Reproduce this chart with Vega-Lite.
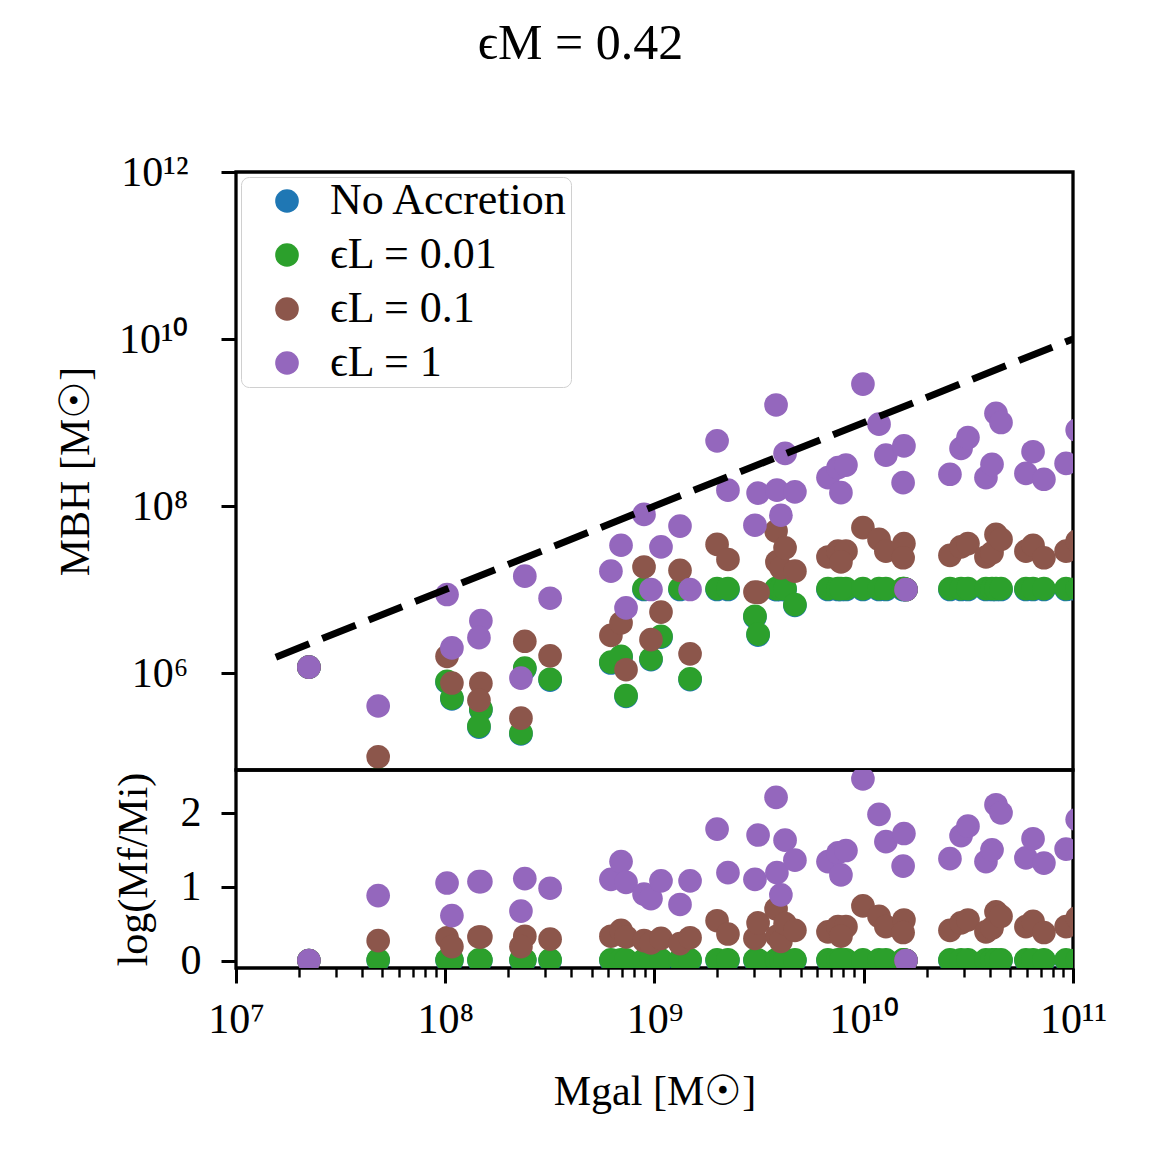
{
"$schema": "https://vega.github.io/schema/vega-lite/v6.json",
"background": "white",
"padding": {"left": 52, "top": 19, "right": 10, "bottom": 10},
"bounds": "flush",
"title": {"text": "ϵM = 0.42", "fontSize": 50, "font": "Liberation Serif", "fontWeight": "normal", "color": "black", "anchor": "middle", "frame": "bounds", "offset": 80},
"config": {
  "font": "Liberation Serif",
  "view": {"stroke": "black", "strokeWidth": 3.3},
  "axis": {"grid": false, "domain": false, "tickColor": "black", "tickWidth": 3, "tickSize": 15, "labelFont": "Liberation Serif", "labelFontSize": 42, "labelColor": "black", "titleFont": "Liberation Serif", "titleFontSize": 42, "titleFontWeight": "normal", "titleColor": "black", "labelPadding": 12, "labelFlush": false, "labelOverlap": false}
},
"datasets": {
"pts": [
{"g":2.23e7,"m":1.175e6,"r":0,"s":"A"},
{"g":4.78e7,"m":5.31e4,"r":0,"s":"A"},
{"g":1.02e8,"m":7.76e5,"r":0,"s":"A"},
{"g":1.076e8,"m":4.90e5,"r":0,"s":"A"},
{"g":1.48e8,"m":3.61e5,"r":0,"s":"A"},
{"g":1.449e8,"m":2.25e5,"r":0,"s":"A"},
{"g":2.40e8,"m":1.122e6,"r":0,"s":"A"},
{"g":2.30e8,"m":1.862e5,"r":0,"s":"A"},
{"g":3.17e8,"m":8.24e5,"r":0,"s":"A"},
{"g":6.19e8,"m":1.318e6,"r":0,"s":"A"},
{"g":6.92e8,"m":1.549e6,"r":0,"s":"A"},
{"g":7.31e8,"m":5.25e5,"r":0,"s":"A"},
{"g":8.91e8,"m":1e7,"r":0,"s":"A"},
{"g":9.62e8,"m":1.445e6,"r":0,"s":"A"},
{"g":1.074e9,"m":2.69e6,"r":0,"s":"A"},
{"g":1.324e9,"m":1e7,"r":0,"s":"A"},
{"g":1.479e9,"m":8.32e5,"r":0,"s":"A"},
{"g":1.991e9,"m":1e7,"r":0,"s":"A"},
{"g":2.244e9,"m":1e7,"r":0,"s":"A"},
{"g":3.02e9,"m":4.68e6,"r":0,"s":"A"},
{"g":3.126e9,"m":2.85e6,"r":0,"s":"A"},
{"g":3.81e9,"m":1e7,"r":0,"s":"A"},
{"g":3.846e9,"m":1e7,"r":0,"s":"A"},
{"g":4.018e9,"m":1e7,"r":0,"s":"A"},
{"g":4.207e9,"m":1e7,"r":0,"s":"A"},
{"g":4.688e9,"m":6.46e6,"r":0,"s":"A"},
{"g":6.745e9,"m":1e7,"r":0,"s":"A"},
{"g":7.534e9,"m":1e7,"r":0,"s":"A"},
{"g":8.222e9,"m":1e7,"r":0,"s":"A"},
{"g":7.78e9,"m":1e7,"r":0,"s":"A"},
{"g":9.91e9,"m":1e7,"r":0,"s":"A"},
{"g":1.183e10,"m":1e7,"r":0,"s":"A"},
{"g":1.276e10,"m":1e7,"r":0,"s":"A"},
{"g":1.556e10,"m":1e7,"r":0,"s":"A"},
{"g":1.542e10,"m":1e7,"r":0,"s":"A"},
{"g":1.592e10,"m":1e7,"r":0,"s":"A"},
{"g":2.582e10,"m":1e7,"r":0,"s":"A"},
{"g":2.917e10,"m":1e7,"r":0,"s":"A"},
{"g":3.148e10,"m":1e7,"r":0,"s":"A"},
{"g":3.837e10,"m":1e7,"r":0,"s":"A"},
{"g":4.102e10,"m":1e7,"r":0,"s":"A"},
{"g":4.285e10,"m":1e7,"r":0,"s":"A"},
{"g":4.529e10,"m":1e7,"r":0,"s":"A"},
{"g":5.957e10,"m":1e7,"r":0,"s":"A"},
{"g":6.442e10,"m":1e7,"r":0,"s":"A"},
{"g":7.261e10,"m":1e7,"r":0,"s":"A"},
{"g":9.268e10,"m":1e7,"r":0,"s":"A"},
{"g":1.047e11,"m":1e7,"r":0,"s":"A"},

{"g":2.23e7,"m":1.175e6,"r":0,"s":"G"},
{"g":4.78e7,"m":5.43e4,"r":0.01,"s":"G"},
{"g":1.02e8,"m":7.94e5,"r":0.01,"s":"G"},
{"g":1.076e8,"m":5.01e5,"r":0.01,"s":"G"},
{"g":1.48e8,"m":3.69e5,"r":0.01,"s":"G"},
{"g":1.449e8,"m":2.31e5,"r":0.01,"s":"G"},
{"g":2.40e8,"m":1.148e6,"r":0.01,"s":"G"},
{"g":2.30e8,"m":1.905e5,"r":0.01,"s":"G"},
{"g":3.17e8,"m":8.43e5,"r":0.01,"s":"G"},
{"g":6.19e8,"m":1.349e6,"r":0.01,"s":"G"},
{"g":6.92e8,"m":1.585e6,"r":0.01,"s":"G"},
{"g":7.31e8,"m":5.37e5,"r":0.01,"s":"G"},
{"g":8.91e8,"m":1.023e7,"r":0.01,"s":"G"},
{"g":9.62e8,"m":1.479e6,"r":0.01,"s":"G"},
{"g":1.074e9,"m":2.754e6,"r":0.01,"s":"G"},
{"g":1.324e9,"m":1.023e7,"r":0.01,"s":"G"},
{"g":1.479e9,"m":8.51e5,"r":0.01,"s":"G"},
{"g":1.991e9,"m":1.023e7,"r":0.01,"s":"G"},
{"g":2.244e9,"m":1.023e7,"r":0.01,"s":"G"},
{"g":3.02e9,"m":4.79e6,"r":0.01,"s":"G"},
{"g":3.126e9,"m":2.92e6,"r":0.01,"s":"G"},
{"g":3.81e9,"m":1.023e7,"r":0.01,"s":"G"},
{"g":3.846e9,"m":1.023e7,"r":0.01,"s":"G"},
{"g":4.018e9,"m":1.023e7,"r":0.01,"s":"G"},
{"g":4.207e9,"m":1.023e7,"r":0.01,"s":"G"},
{"g":4.688e9,"m":6.61e6,"r":0.01,"s":"G"},
{"g":6.745e9,"m":1.023e7,"r":0.01,"s":"G"},
{"g":7.534e9,"m":1.023e7,"r":0.01,"s":"G"},
{"g":8.222e9,"m":1.023e7,"r":0.01,"s":"G"},
{"g":7.78e9,"m":1.023e7,"r":0.01,"s":"G"},
{"g":9.91e9,"m":1.023e7,"r":0.01,"s":"G"},
{"g":1.183e10,"m":1.023e7,"r":0.01,"s":"G"},
{"g":1.276e10,"m":1.023e7,"r":0.01,"s":"G"},
{"g":1.556e10,"m":1.023e7,"r":0.01,"s":"G"},
{"g":1.542e10,"m":1.023e7,"r":0.01,"s":"G"},
{"g":1.592e10,"m":1e7,"r":0,"s":"G"},
{"g":2.582e10,"m":1.023e7,"r":0.01,"s":"G"},
{"g":2.917e10,"m":1.023e7,"r":0.01,"s":"G"},
{"g":3.148e10,"m":1.023e7,"r":0.01,"s":"G"},
{"g":3.837e10,"m":1.023e7,"r":0.01,"s":"G"},
{"g":4.102e10,"m":1.023e7,"r":0.01,"s":"G"},
{"g":4.285e10,"m":1.023e7,"r":0.01,"s":"G"},
{"g":4.529e10,"m":1.023e7,"r":0.01,"s":"G"},
{"g":5.957e10,"m":1.023e7,"r":0.01,"s":"G"},
{"g":6.442e10,"m":1.023e7,"r":0.01,"s":"G"},
{"g":7.261e10,"m":1.023e7,"r":0.01,"s":"G"},
{"g":9.268e10,"m":1.023e7,"r":0.01,"s":"G"},
{"g":1.047e11,"m":1.023e7,"r":0.01,"s":"G"},

{"g":2.23e7,"m":1.175e6,"r":0,"s":"B"},
{"g":4.78e7,"m":9.89e4,"r":0.27,"s":"B"},
{"g":1.02e8,"m":1.585e6,"r":0.31,"s":"B"},
{"g":1.076e8,"m":7.59e5,"r":0.19,"s":"B"},
{"g":1.48e8,"m":7.53e5,"r":0.32,"s":"B"},
{"g":1.449e8,"m":4.71e5,"r":0.32,"s":"B"},
{"g":2.40e8,"m":2.40e6,"r":0.33,"s":"B"},
{"g":2.30e8,"m":2.88e5,"r":0.19,"s":"B"},
{"g":3.17e8,"m":1.607e6,"r":0.29,"s":"B"},
{"g":6.19e8,"m":2.82e6,"r":0.33,"s":"B"},
{"g":6.92e8,"m":3.98e6,"r":0.41,"s":"B"},
{"g":7.31e8,"m":1.096e6,"r":0.32,"s":"B"},
{"g":8.91e8,"m":1.862e7,"r":0.27,"s":"B"},
{"g":9.62e8,"m":2.51e6,"r":0.24,"s":"B"},
{"g":1.074e9,"m":5.37e6,"r":0.30,"s":"B"},
{"g":1.324e9,"m":1.698e7,"r":0.23,"s":"B"},
{"g":1.479e9,"m":1.698e6,"r":0.31,"s":"B"},
{"g":1.991e9,"m":3.47e7,"r":0.54,"s":"B"},
{"g":2.244e9,"m":2.29e7,"r":0.36,"s":"B"},
{"g":3.02e9,"m":9.33e6,"r":0.30,"s":"B"},
{"g":3.126e9,"m":9.23e6,"r":0.51,"s":"B"},
{"g":3.81e9,"m":5.01e7,"r":0.70,"s":"B"},
{"g":3.846e9,"m":2.14e7,"r":0.33,"s":"B"},
{"g":4.018e9,"m":1.82e7,"r":0.26,"s":"B"},
{"g":4.207e9,"m":3.16e7,"r":0.50,"s":"B"},
{"g":4.688e9,"m":1.66e7,"r":0.41,"s":"B"},
{"g":6.745e9,"m":2.455e7,"r":0.39,"s":"B"},
{"g":7.534e9,"m":2.88e7,"r":0.46,"s":"B"},
{"g":8.222e9,"m":2.88e7,"r":0.46,"s":"B"},
{"g":7.78e9,"m":2.14e7,"r":0.33,"s":"B"},
{"g":9.91e9,"m":5.5e7,"r":0.74,"s":"B"},
{"g":1.183e10,"m":3.98e7,"r":0.60,"s":"B"},
{"g":1.276e10,"m":2.88e7,"r":0.46,"s":"B"},
{"g":1.556e10,"m":3.55e7,"r":0.55,"s":"B"},
{"g":1.542e10,"m":2.40e7,"r":0.38,"s":"B"},
{"g":1.592e10,"m":1e7,"r":0,"s":"B"},
{"g":2.582e10,"m":2.57e7,"r":0.41,"s":"B"},
{"g":2.917e10,"m":3.24e7,"r":0.51,"s":"B"},
{"g":3.148e10,"m":3.55e7,"r":0.55,"s":"B"},
{"g":3.837e10,"m":2.455e7,"r":0.39,"s":"B"},
{"g":4.102e10,"m":2.75e7,"r":0.44,"s":"B"},
{"g":4.285e10,"m":4.57e7,"r":0.66,"s":"B"},
{"g":4.529e10,"m":3.98e7,"r":0.60,"s":"B"},
{"g":5.957e10,"m":2.88e7,"r":0.46,"s":"B"},
{"g":6.442e10,"m":3.39e7,"r":0.53,"s":"B"},
{"g":7.261e10,"m":2.40e7,"r":0.38,"s":"B"},
{"g":9.268e10,"m":2.88e7,"r":0.46,"s":"B"},
{"g":1.047e11,"m":3.80e7,"r":0.58,"s":"B"},

{"g":2.23e7,"m":1.175e6,"r":0,"s":"P"},
{"g":4.78e7,"m":4.03e5,"r":0.88,"s":"P"},
{"g":1.02e8,"m":8.71e6,"r":1.05,"s":"P"},
{"g":1.076e8,"m":2.0e6,"r":0.61,"s":"P"},
{"g":1.48e8,"m":4.24e6,"r":1.07,"s":"P"},
{"g":1.449e8,"m":2.65e6,"r":1.07,"s":"P"},
{"g":2.40e8,"m":1.445e7,"r":1.11,"s":"P"},
{"g":2.30e8,"m":8.71e5,"r":0.67,"s":"P"},
{"g":3.17e8,"m":7.87e6,"r":0.98,"s":"P"},
{"g":6.19e8,"m":1.66e7,"r":1.10,"s":"P"},
{"g":6.92e8,"m":3.39e7,"r":1.34,"s":"P"},
{"g":7.31e8,"m":6.03e6,"r":1.06,"s":"P"},
{"g":8.91e8,"m":7.94e7,"r":0.90,"s":"P"},
{"g":9.62e8,"m":1.0e7,"r":0.84,"s":"P"},
{"g":1.074e9,"m":3.24e7,"r":1.08,"s":"P"},
{"g":1.324e9,"m":5.75e7,"r":0.76,"s":"P"},
{"g":1.479e9,"m":1.0e7,"r":1.08,"s":"P"},
{"g":1.991e9,"m":6.03e8,"r":1.78,"s":"P"},
{"g":2.244e9,"m":1.549e8,"r":1.19,"s":"P"},
{"g":3.02e9,"m":5.89e7,"r":1.10,"s":"P"},
{"g":3.126e9,"m":1.429e8,"r":1.70,"s":"P"},
{"g":3.81e9,"m":1.622e9,"r":2.21,"s":"P"},
{"g":3.846e9,"m":1.549e8,"r":1.19,"s":"P"},
{"g":4.018e9,"m":7.76e7,"r":0.89,"s":"P"},
{"g":4.207e9,"m":4.27e8,"r":1.63,"s":"P"},
{"g":4.688e9,"m":1.479e8,"r":1.36,"s":"P"},
{"g":6.745e9,"m":2.19e8,"r":1.34,"s":"P"},
{"g":7.534e9,"m":2.88e8,"r":1.46,"s":"P"},
{"g":8.222e9,"m":3.09e8,"r":1.49,"s":"P"},
{"g":7.78e9,"m":1.445e8,"r":1.16,"s":"P"},
{"g":9.91e9,"m":2.884e9,"r":2.46,"s":"P"},
{"g":1.183e10,"m":9.55e8,"r":1.98,"s":"P"},
{"g":1.276e10,"m":4.07e8,"r":1.61,"s":"P"},
{"g":1.556e10,"m":5.25e8,"r":1.72,"s":"P"},
{"g":1.542e10,"m":1.905e8,"r":1.28,"s":"P"},
{"g":1.592e10,"m":1e7,"r":0,"s":"P"},
{"g":2.582e10,"m":2.40e8,"r":1.38,"s":"P"},
{"g":2.917e10,"m":4.90e8,"r":1.69,"s":"P"},
{"g":3.148e10,"m":6.61e8,"r":1.82,"s":"P"},
{"g":3.837e10,"m":2.19e8,"r":1.34,"s":"P"},
{"g":4.102e10,"m":3.16e8,"r":1.50,"s":"P"},
{"g":4.285e10,"m":1.288e9,"r":2.11,"s":"P"},
{"g":4.529e10,"m":1.0e9,"r":2.00,"s":"P"},
{"g":5.957e10,"m":2.455e8,"r":1.39,"s":"P"},
{"g":6.442e10,"m":4.47e8,"r":1.65,"s":"P"},
{"g":7.261e10,"m":2.09e8,"r":1.32,"s":"P"},
{"g":9.268e10,"m":3.24e8,"r":1.51,"s":"P"},
{"g":1.047e11,"m":8.13e8,"r":1.91,"s":"P"}
],
"line": [
{"g":1.55e7,"m":1.55e6},
{"g":1e11,"m":1e10}
]
},
"spacing": 0,
"resolve": {"scale": {"color": "independent"}, "legend": {"color": "independent"}},
"vconcat": [
{
  "width": 837, "height": 598,
  "layer": [
    {
      "data": {"name": "pts"},
      "mark": {"type": "circle", "size": 560, "opacity": 1, "clip": true},
      "encoding": {
        "x": {"field": "g", "type": "quantitative", "scale": {"type": "log", "domain": [1e7, 1e11], "nice": false}, "axis": null},
        "y": {"field": "m", "type": "quantitative", "scale": {"type": "log", "domain": [69000, 1e12], "nice": false},
              "axis": {"values": [1e6, 1e8, 1e10, 1e12], "labelExpr": "datum.value >= 1e12 ? '10¹²' : datum.value >= 1e10 ? '10¹⁰' : datum.value >= 1e8 ? '10⁸' : '10⁶'", "title": "MBH [M☉]", "titlePadding": 21, "labelPadding": 33}},
        "color": {"field": "s", "type": "nominal", "sort": null,
                  "scale": {"domain": ["A", "G", "B", "P"], "range": ["#1f77b4", "#2ca02c", "#8c564b", "#9467bd"]},
                  "legend": {"title": null, "orient": "top-left", "offset": 5, "labelExpr": "datum.label == 'A' ? 'No Accretion' : datum.label == 'G' ? 'ϵL = 0.01' : datum.label == 'B' ? 'ϵL = 0.1' : 'ϵL = 1'",
                             "labelFont": "Liberation Serif", "labelFontSize": 44, "labelColor": "black", "symbolType": "circle", "symbolSize": 560, "symbolOpacity": 1, "symbolStrokeWidth": 0,
                             "strokeColor": "#d0d0d0", "fillColor": "rgba(255,255,255,0.8)", "cornerRadius": 8, "padding": 2, "rowPadding": 10, "symbolOffset": 22, "labelOffset": 21, "labelLimit": 400}}
      }
    },
    {
      "data": {"name": "line"},
      "mark": {"type": "line", "color": "black", "strokeWidth": 7, "strokeDash": [36, 14], "clip": true},
      "encoding": {
        "x": {"field": "g", "type": "quantitative", "axis": null},
        "y": {"field": "m", "type": "quantitative"}
      }
    }
  ]
},
{
  "width": 837, "height": 198,
  "data": {"name": "pts"},
  "mark": {"type": "circle", "size": 560, "opacity": 1, "clip": true},
  "encoding": {
    "x": {"field": "g", "type": "quantitative", "scale": {"type": "log", "domain": [1e7, 1e11], "nice": false},
          "axis": {"values": [1e7,2e7,3e7,4e7,5e7,6e7,7e7,8e7,9e7,1e8,2e8,3e8,4e8,5e8,6e8,7e8,8e8,9e8,1e9,2e9,3e9,4e9,5e9,6e9,7e9,8e9,9e9,1e10,2e10,3e10,4e10,5e10,6e10,7e10,8e10,9e10,1e11],
                   "tickCount": 200,
                   "labelExpr": "abs(log(datum.value)/LN10 - round(log(datum.value)/LN10)) > 0.001 ? '' : round(log(datum.value)/LN10) == 7 ? '10⁷' : round(log(datum.value)/LN10) == 8 ? '10⁸' : round(log(datum.value)/LN10) == 9 ? '10⁹' : round(log(datum.value)/LN10) == 10 ? '10¹⁰' : '10¹¹'",
                   "tickSize": {"condition": {"test": "abs(log(datum.value)/LN10 - round(log(datum.value)/LN10)) < 0.001", "value": 15}, "value": 9},
                   "tickWidth": {"condition": {"test": "abs(log(datum.value)/LN10 - round(log(datum.value)/LN10)) < 0.001", "value": 3}, "value": 2.4},
                   "labelPadding": 16, "title": "Mgal [M☉]", "titlePadding": 31}},
    "y": {"field": "r", "type": "quantitative", "scale": {"domain": [-0.1, 2.58], "nice": false, "zero": false},
          "axis": {"values": [0, 1, 2], "title": "log(Mf/Mi)", "titlePadding": 25, "labelPadding": 20}},
    "color": {"field": "s", "type": "nominal", "sort": null,
              "scale": {"domain": ["A", "G", "B", "P"], "range": ["#1f77b4", "#2ca02c", "#8c564b", "#9467bd"]},
              "legend": null}
  }
}
]
}
